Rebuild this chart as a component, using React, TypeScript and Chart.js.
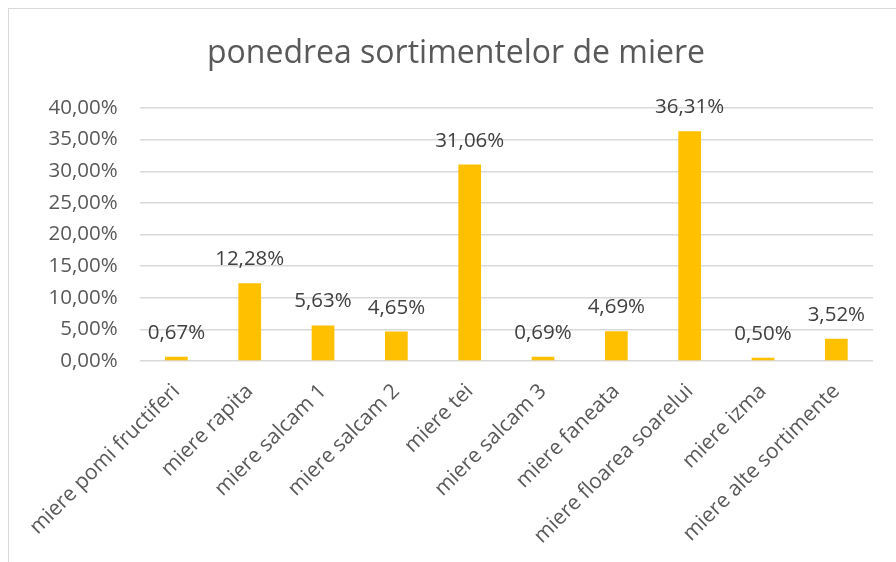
import React, { useEffect, useRef } from "react";
import { Chart, registerables } from "chart.js";

Chart.register(...registerables);

const TITLE = "ponedrea sortimentelor de miere";
const categories = [
  "miere pomi fructiferi",
  "miere rapita",
  "miere salcam 1",
  "miere salcam 2",
  "miere tei",
  "miere salcam 3",
  "miere faneata",
  "miere floarea soarelui",
  "miere izma",
  "miere alte sortimente",
];
const values = [0.67, 12.28, 5.63, 4.65, 31.06, 0.69, 4.69, 36.31, 0.5, 3.52];
const yMin = 0;
const yMax = 40;
const yStep = 5;

const FONT = "'Open Sans', 'DejaVu Sans', sans-serif";
const fmt = (v: number) => v.toFixed(2).replace(".", ",") + "%";

const dataLabelPlugin = {
  id: "dataLabels",
  afterDatasetsDraw(chart: any) {
    const ctx = chart.ctx;
    const meta = chart.getDatasetMeta(0);
    ctx.save();
    ctx.font = `20.5px ${FONT}`;
    ctx.fillStyle = "#404040";
    ctx.textAlign = "center";
    ctx.textBaseline = "alphabetic";
    meta.data.forEach((el: any, i: number) => {
      ctx.fillText(fmt(values[i]), el.x, el.y - 18);
    });
    ctx.restore();
  },
};

const titlePlugin = {
  id: "customTitle",
  afterDraw(chart: any) {
    const ctx = chart.ctx;
    ctx.save();
    ctx.font = `32px ${FONT}`;
    ctx.fillStyle = "#595959";
    ctx.textAlign = "center";
    ctx.textBaseline = "alphabetic";
    ctx.fillText(TITLE, 447, 54);
    ctx.restore();
  },
};

export default function App() {
  const ref = useRef<HTMLCanvasElement>(null);
  useEffect(() => {
    if (!ref.current) return;
    const chart = new Chart(ref.current, {
      type: "bar",
      data: {
        labels: categories,
        datasets: [
          {
            data: values,
            backgroundColor: "#FFC000",
            borderWidth: 0,
            barPercentage: 0.31,
            categoryPercentage: 1,
          },
        ],
      },
      options: {
        animation: false,
        responsive: false,
        maintainAspectRatio: false,
        layout: { padding: { left: 0, right: 23, top: 99, bottom: 0 } },
        plugins: {
          legend: { display: false },
          tooltip: { enabled: false },
          title: { display: false },
        },
        scales: {
          x: {
            grid: { display: false, drawTicks: false },
            border: { display: false },
            ticks: {
              color: "#595959",
              font: { family: FONT, size: 21 },
              minRotation: 45,
              maxRotation: 45,
              autoSkip: false,
              padding: 18,
            },
            afterFit(scale: any) {
              scale.height = 201;
            },
          },
          y: {
            min: yMin,
            max: yMax,
            ticks: {
              stepSize: yStep,
              color: "#595959",
              font: { family: FONT, size: 20.5 },
              padding: 22,
              callback: (v: any) => fmt(Number(v)),
            },
            grid: { color: "#d9d9d9", lineWidth: 1.5, drawTicks: false },
            border: { display: false },
            afterFit(scale: any) {
              scale.width = 129;
            },
          },
        },
      },
      plugins: [dataLabelPlugin, titlePlugin],
    });
    return () => chart.destroy();
  }, []);
  return (
    <div
      style={{
        position: "absolute",
        left: 8,
        top: 8,
        width: 888,
        height: 554,
        borderTop: "1px solid #d9d9d9",
        borderLeft: "1px solid #d9d9d9",
        background: "#fff",
      }}
    >
      <canvas ref={ref} width={887} height={553} style={{ display: "block" }} />
    </div>
  );
}
